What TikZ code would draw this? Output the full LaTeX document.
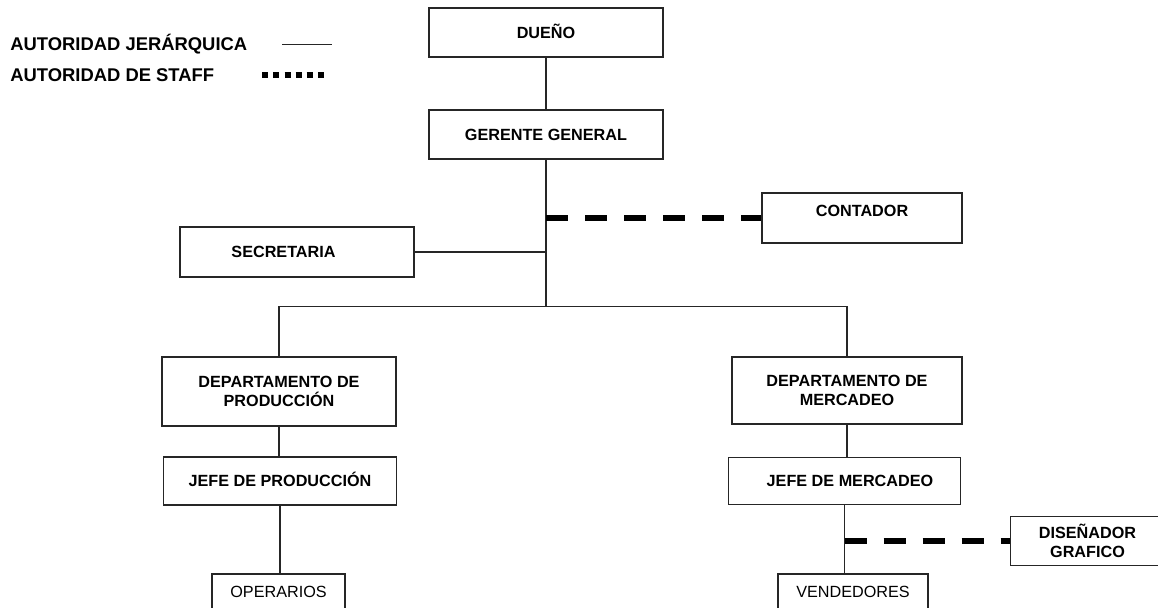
\documentclass[tikz,border=0pt]{standalone}
\usepackage{fontspec}
\setmainfont{Liberation Sans}
\usetikzlibrary{positioning}

\tikzset{
  cargo/.style={draw=black!85, line width=0.8pt, inner sep=0pt, align=center,
    font=\fontsize{8.1}{9.6}\selectfont\bfseries},
  simple/.style={cargo, text height=5.8pt, text depth=0pt},
  normal/.style={simple, font=\fontsize{8.1}{9.6}\selectfont},
  linea/.style={draw=black!85, line width=0.7pt},
  staff/.style={line width=3pt, dash pattern=on 11pt off 8.5pt},
  leyenda/.style={anchor=west, inner sep=0pt, text height=6.5pt, text depth=0pt,
    font=\fontsize{9.2}{11}\selectfont\bfseries}
}

\begin{document}
\begin{tikzpicture}[x=0.5pt, y=-0.5pt]
\useasboundingbox (0,0) rectangle (1158,607);

% leyenda
\node[leyenda] (jerarquica) at (10,44) {AUTORIDAD JERÁRQUICA};
\node[leyenda] (stafftxt) at (10,75) {AUTORIDAD DE STAFF};
\draw[linea] (282,44.3) -- (332,44.3);
\draw[line width=3pt, dash pattern=on 3pt off 2.55pt] (262.3,75) -- (324,75);

% cargos
\node[simple, minimum width=117pt, minimum height=24.5pt] (dueno) at (546,32.5) {DUEÑO};
\node[simple, minimum width=117pt, minimum height=24.5pt] (gerente) at (546,134.5) {GERENTE GENERAL};
\node[simple, minimum width=100pt, minimum height=25pt, text depth=7pt] (contador) at (862,218) {CONTADOR};
\node[simple, minimum width=117pt, minimum height=25pt] (secretaria) at (297,252) {SECRETARIA\kern13.5pt};
\node[cargo, minimum width=117pt, minimum height=34.5pt] (depprod) at (279,391.5) {DEPARTAMENTO DE\\PRODUCCIÓN};
\node[simple, minimum width=116.5pt, minimum height=24pt] (jefeprod) at (280,481) {JEFE DE PRODUCCIÓN};
\node[normal, minimum width=66.5pt, minimum height=17.5pt] (operarios) at (278.5,591.5) {OPERARIOS};
\node[cargo, minimum width=115pt, minimum height=33.5pt] (depmerc) at (847,390.5) {DEPARTAMENTO DE\\MERCADEO};
\node[simple, minimum width=116pt, minimum height=23.5pt] (jefemerc) at (844.5,481) {\kern5.5pt JEFE DE MERCADEO};
\node[normal, minimum width=75pt, minimum height=17.5pt] (vendedores) at (853,591.5) {VENDEDORES};
\node[cargo, minimum width=77pt, minimum height=24.5pt] (disenador) at (1087.5,541) {DISEÑADOR\\GRAFICO};

% lineas de mando
\coordinate (rama) at (546,306.5);
\draw[linea] (dueno.south) -- (gerente.north);
\draw[linea] (gerente.south) -- (rama);
\draw[linea] (secretaria.east) -- (secretaria.east -| rama);
\draw[linea] (depprod.north) |- (rama) -| (depmerc.north);
\draw[linea] (depprod.south) -- (depprod.south |- jefeprod.north);
\draw[linea] (depmerc.south) -- (depmerc.south |- jefemerc.north);
\draw[linea] (jefeprod.south) -- (jefeprod.south |- operarios.north);
\draw[linea] (jefemerc.south) -- (jefemerc.south |- vendedores.north);

% staff
\draw[staff] (contador.west -| rama) -- (contador.west);
\draw[staff] (disenador.west -| jefemerc.south) -- (disenador.west);
\end{tikzpicture}
\end{document}
